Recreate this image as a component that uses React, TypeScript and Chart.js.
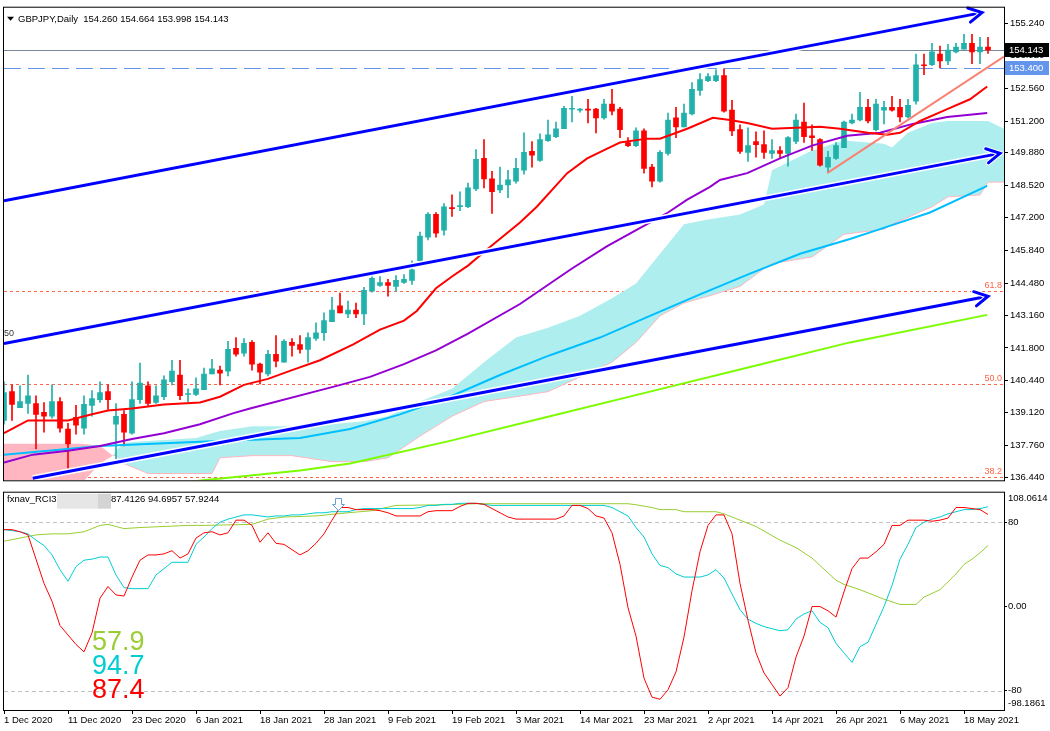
import React, { useEffect, useRef } from "react";
import { Chart, registerables } from "chart.js";

Chart.register(...registerables);

const FONT = "'Liberation Sans', Arial, sans-serif";
const TEAL = "#20B2AA";
const RED = "#FF0000";

// ---------- axes / labels ----------
const dateLabels = ["1 Dec 2020", "11 Dec 2020", "23 Dec 2020", "6 Jan 2021", "18 Jan 2021", "28 Jan 2021", "9 Feb 2021", "19 Feb 2021", "3 Mar 2021", "14 Mar 2021", "23 Mar 2021", "2 Apr 2021", "14 Apr 2021", "26 Apr 2021", "6 May 2021", "18 May 2021"];
const dateLabelBars = [0, 8, 16, 24, 32, 40, 48, 56, 64, 72, 80, 88, 96, 104, 112, 120];
const priceTicks = [136.44, 137.76, 139.12, 140.44, 141.8, 143.16, 144.48, 145.84, 147.2, 148.52, 149.88, 151.2, 152.56, 153.92, 155.24];
const priceMin = 136.318;
const priceMax = 155.893;
const barMin = 0;
const barMax = 125;
const rciTicks = [-80, 0, 80];
const rciMin = -98.1861;
const rciMax = 108.0614;

// ---------- candles (GBPJPY daily) ----------
const opens = [138.80, 139.99, 139.33, 139.50, 139.50, 139.13, 138.97, 139.58, 138.44, 138.93, 138.48, 139.42, 139.66, 139.99, 138.64, 139.05, 138.27, 139.66, 140.23, 139.54, 139.78, 140.40, 140.68, 139.87, 139.87, 140.07, 140.72, 140.88, 140.84, 141.78, 141.58, 142.03, 141.13, 140.72, 141.54, 141.21, 142.03, 141.94, 141.74, 142.19, 142.43, 142.89, 143.54, 143.21, 143.37, 143.21, 144.15, 144.39, 144.51, 144.35, 144.51, 144.60, 145.41, 146.39, 147.33, 146.68, 147.61, 147.65, 147.65, 148.39, 149.65, 148.80, 148.35, 148.55, 148.71, 149.16, 149.94, 149.57, 150.39, 150.55, 150.88, 151.69, 151.65, 151.69, 151.69, 151.33, 151.90, 151.69, 150.31, 150.18, 150.79, 149.29, 148.71, 149.86, 151.33, 150.96, 151.49, 152.47, 152.87, 152.87, 153.08, 151.65, 150.84, 149.90, 150.35, 150.22, 149.86, 149.98, 149.86, 150.35, 151.16, 150.59, 150.43, 149.29, 149.65, 150.10, 151.12, 151.24, 151.77, 150.84, 151.65, 151.77, 151.77, 151.37, 152.02, 153.53, 153.53, 153.97, 153.69, 154.06, 154.18, 154.42, 154.06, 154.260];
const highs = [140.40, 140.27, 140.23, 140.68, 139.82, 139.54, 140.27, 139.74, 138.68, 139.42, 139.82, 140.03, 140.40, 140.27, 139.50, 139.21, 140.40, 141.17, 140.40, 140.23, 140.64, 141.29, 141.29, 140.11, 140.56, 140.97, 141.33, 141.05, 142.07, 142.23, 142.19, 142.11, 141.17, 141.70, 142.31, 142.15, 142.19, 142.31, 142.43, 142.84, 143.25, 143.90, 144.07, 143.74, 143.66, 144.31, 144.76, 144.76, 144.64, 144.80, 144.84, 145.41, 146.60, 147.41, 147.41, 147.78, 148.14, 148.27, 148.63, 150.02, 150.43, 149.12, 149.29, 149.16, 149.65, 150.71, 150.35, 150.67, 151.24, 151.16, 151.81, 152.22, 151.73, 152.10, 151.73, 152.10, 152.51, 151.77, 150.51, 150.92, 150.88, 149.41, 149.98, 151.53, 151.77, 151.90, 152.79, 153.16, 153.16, 153.32, 153.36, 152.06, 151.04, 150.92, 150.75, 150.79, 150.43, 150.14, 150.55, 151.49, 151.94, 151.04, 150.47, 149.94, 150.31, 151.20, 151.49, 152.39, 152.10, 152.10, 152.02, 152.22, 152.10, 152.10, 153.97, 153.97, 154.42, 154.30, 154.38, 154.42, 154.79, 154.79, 154.67, 154.664];
const lows = [138.64, 138.80, 139.33, 139.09, 137.62, 138.31, 138.89, 138.31, 136.81, 138.23, 138.23, 138.97, 139.54, 139.25, 137.21, 137.74, 138.23, 139.50, 139.42, 139.50, 139.66, 140.27, 139.66, 139.58, 139.82, 140.07, 140.72, 140.27, 140.64, 141.46, 141.46, 140.88, 140.31, 140.64, 141.01, 141.21, 141.46, 141.58, 141.21, 142.11, 142.11, 142.89, 143.25, 143.05, 143.05, 142.76, 144.11, 144.35, 143.94, 144.15, 144.47, 144.43, 145.37, 146.27, 146.39, 146.47, 147.25, 147.49, 147.61, 148.31, 148.43, 147.37, 148.23, 148.02, 148.63, 149.00, 149.29, 149.53, 150.35, 150.51, 150.88, 151.16, 151.57, 151.12, 150.71, 151.28, 151.45, 150.51, 150.14, 150.14, 149.04, 148.47, 148.67, 149.78, 150.51, 150.96, 151.45, 152.26, 152.83, 152.83, 151.57, 150.59, 149.86, 149.53, 149.70, 149.65, 149.65, 149.65, 149.33, 150.26, 150.31, 149.98, 149.33, 149.08, 149.61, 150.10, 151.08, 151.20, 151.12, 150.79, 151.08, 151.61, 151.16, 151.33, 151.90, 153.12, 153.49, 153.40, 153.53, 154.02, 154.18, 153.57, 153.57, 153.998];
const closes = [139.95, 139.46, 139.58, 139.82, 139.05, 138.97, 139.58, 138.48, 137.83, 138.60, 139.46, 139.70, 139.95, 139.66, 138.97, 138.31, 139.66, 140.35, 139.50, 139.82, 140.48, 140.84, 139.82, 139.91, 140.11, 140.72, 140.93, 140.76, 141.74, 141.54, 141.99, 141.13, 140.80, 141.54, 141.25, 142.07, 141.90, 141.74, 142.23, 142.43, 142.93, 143.37, 143.25, 143.37, 143.21, 144.19, 144.68, 144.51, 144.39, 144.60, 144.64, 145.04, 146.43, 147.33, 146.55, 147.65, 147.57, 147.70, 148.43, 149.61, 148.80, 148.27, 148.55, 148.76, 149.24, 149.90, 149.78, 150.43, 150.63, 150.88, 151.73, 151.73, 151.69, 151.65, 151.33, 151.90, 151.61, 150.84, 150.18, 150.79, 149.24, 148.71, 149.90, 151.24, 150.96, 151.53, 152.51, 152.92, 153.04, 153.08, 151.61, 150.79, 149.94, 150.18, 150.22, 149.90, 149.98, 149.86, 150.51, 151.24, 150.55, 150.51, 149.37, 149.70, 150.18, 151.16, 151.24, 151.77, 151.20, 151.90, 151.77, 151.65, 151.37, 151.85, 153.53, 153.49, 154.06, 153.69, 154.14, 154.26, 154.42, 154.06, 154.26, 154.143];

// ---------- moving averages [bar, price] ----------
const maRed = [[0, 138.27], [3, 138.80], [8, 138.80], [11, 139.05], [13, 139.21], [16, 139.29], [20, 139.46], [24.5, 139.54], [27, 139.78], [30, 140.27], [33, 140.52], [36, 140.88], [39.5, 141.29], [43.6, 141.94], [47, 142.56], [50, 142.93], [51.6, 143.33], [54, 144.27], [56, 144.76], [58, 145.21], [60.75, 145.98], [64.5, 147.00], [66.6, 147.65], [70.4, 149.04], [72.9, 149.65], [75.4, 150.06], [77, 150.31], [80.4, 150.47], [82, 150.47], [85.4, 150.88], [88.6, 151.33], [90.75, 151.24], [92.9, 151.12], [96, 150.88], [99, 150.92], [102, 150.96], [104.5, 150.88], [108, 150.71], [110.4, 150.63], [112, 150.71], [114.5, 151.20], [117.9, 151.69], [120.75, 152.10], [122.9, 152.63]];
const maPurple = [[0, 137.05], [3.6, 137.38], [8, 137.54], [12, 137.74], [16, 138.03], [20, 138.27], [24.5, 138.64], [28.6, 139.09], [30.75, 139.29], [41.6, 140.23], [45.75, 140.60], [50, 141.13], [54, 141.70], [58, 142.39], [64.5, 143.62], [71, 145.09], [75.4, 146.02], [81, 147.04], [83, 147.41], [85.4, 147.94], [88.25, 148.47], [89.5, 148.76], [92.9, 149.04], [97, 149.65], [101, 150.18], [105.4, 150.59], [109.5, 150.71], [113.6, 151.08], [117.9, 151.37], [122.9, 151.53]];
const maBlue = [[0, 137.38], [12, 137.74], [24.5, 137.91], [37, 138.07], [43.25, 138.44], [49.5, 139.05], [55.75, 139.78], [62, 140.68], [68.25, 141.50], [74.5, 142.23], [80.75, 143.13], [87, 144.02], [93.25, 144.88], [99.5, 145.70], [105.75, 146.31], [109.5, 146.72], [115.75, 147.41], [122.9, 148.51]];
const maGreen = [[22, 136.2], [24.9, 136.32], [37, 136.72], [43.25, 137.01], [55.75, 137.95], [68.25, 138.97], [80.75, 139.99], [93.25, 141.01], [105.75, 142.03], [122.9, 143.17]];

// ---------- ichimoku cloud ----------
const pinkBars = [0, 9.75, 12, 13.6];
const pinkUpper = [137.83, 137.83, 137.75, 137.34];
const pinkLower = [136.2, 136.2, 137.01, 137.34];
const cloudBars = [13.6, 14, 15, 18, 24, 26, 27, 31, 36, 41, 45, 48, 52, 56, 60, 64, 68, 72, 76, 79, 82, 85, 88, 92, 95, 96, 101, 105, 110, 111, 113, 116, 118, 122, 123, 125];
const cloudUpper = [137.34, 137.54, 137.87, 137.95, 138.07, 138.27, 138.36, 138.56, 138.56, 138.64, 138.76, 138.97, 139.58, 140.11, 141.21, 142.23, 142.64, 143.13, 143.86, 144.47, 145.70, 146.92, 147.12, 147.33, 147.74, 149.16, 149.98, 150.39, 150.26, 150.10, 150.71, 151.12, 151.20, 151.20, 151.20, 150.88];
const cloudLower = [137.34, 137.34, 137.01, 136.60, 136.60, 136.60, 137.25, 137.34, 137.34, 137.09, 137.09, 137.25, 138.15, 138.97, 139.58, 139.78, 139.99, 140.60, 141.21, 142.03, 143.13, 143.66, 143.94, 144.35, 145.09, 145.29, 145.57, 146.51, 146.72, 146.92, 147.21, 147.65, 148.06, 148.14, 148.67, 148.67];

// ---------- drawn objects ----------
const trendUpper = [[0, 147.90], [122.25, 155.69]];
const trendMiddle = [[0, 141.98], [124.5, 149.86]];
const trendLower = [[3.6, 136.40], [123, 143.94]];
const trendShort = [[102.9, 149.04], [125, 153.87]];
const fibLevels = [136.44, 140.30, 144.15];
const fibNames = ["38.2", "50.0", "61.8"];
const bidPrice = 154.143;
const alertPrice = 153.4;
const headerText = "GBPJPY,Daily  154.260 154.664 153.998 154.143";

// ---------- RCI ----------
const rciShort = [73, 73, 71, 68, 45, 22, 5, -18, -27, -36, -43, -25, 8, 19, 11, 10, 28, 44, 49, 49, 50, 53, 46, 50, 65, 70, 71, 68, 70, 82, 82, 77, 61, 70, 60, 59, 54, 49, 53, 60, 69, 82, 94, 94, 92, 92, 92, 91, 89, 86, 86, 86, 86, 90, 91, 91, 91, 95, 98, 98, 97, 93, 89, 85, 83, 83, 83, 83, 83, 83, 86, 96, 96, 93, 86, 84, 70, 40, -1, -28, -68, -86, -88, -79, -62, -29, 15, 52, 77, 87, 87, 69, 22, -13, -44, -63, -74, -85, -77, -48, -28, 0, 0, -4, -10, 14, 36, 46, 46, 52, 59, 77, 77, 82, 82, 82, 81, 82, 84, 94, 94, 93, 92, 87.4];
const rciMid = [73, 72, 71, 69, 63, 58, 49, 35, 24, 38, 44, 45, 47, 47, 30, 18, 17, 17, 17, 30, 36, 42, 42, 42, 59, 66, 74, 80, 83, 85, 87, 87, 86, 85, 86, 86, 87, 87, 88, 89, 89, 90, 90, 90, 92, 93, 93, 93, 93, 93, 93, 93, 94, 96, 96, 97, 97, 98, 98, 98, 97, 96, 96, 96, 96, 96, 96, 96, 96, 96, 96, 96, 96, 96, 96, 96, 94, 90, 86, 75, 66, 50, 39, 37, 31, 28, 28, 28, 30, 35, 27, 12, -3, -12, -16, -19, -21, -23, -22, -12, -7, -4, -15, -20, -35, -44, -53, -38, -34, -17, 0, 20, 45, 59, 75, 80, 83, 85, 88, 90, 92, 92, 93, 94.7];
const rciLong = [[0, 62], [2, 65], [4, 68], [6, 69], [8, 69], [10, 71], [12, 77], [13, 78], [15, 74], [17, 75], [20, 76], [23, 77], [25, 77], [31, 78], [33, 83], [35, 85], [39, 86], [43, 89], [46, 91], [49, 96], [55, 96.6], [59, 97.6], [78, 97.6], [79, 96.6], [81, 94], [82, 92], [84, 92], [85, 90], [89, 90], [90, 88], [92, 82], [94, 76], [97, 63], [99, 56], [101, 46], [104, 25], [105, 21], [107, 16], [109, 10], [110, 7], [112, 2], [114, 2], [115, 9], [117, 16], [119, 31], [120, 40], [121, 45], [122, 51], [123, 57.9]];
const rciLastValues = ["57.9", "94.7", "87.4"];
const rciLastColors = ["#9ACD32", "#00CED1", "#FF0000"];
const rciHeaderValues = "87.4126 94.6957 57.9244";
const rciSignalBar = 41.7;
const rciSignalValue = 103;

// ---------- helpers ----------
const pairPts = (pairs: number[][]) => pairs.map(([x, y]) => ({ x, y }));
const zipPts = (xs: number[], ys: number[]) => xs.map((x, i) => ({ x, y: ys[i] }));
const seriesPts = (ys: number[]) => ys.map((y, i) => ({ x: i, y }));

const lineDs = (data: any[], color: string, width: number, order: number, extra: any = {}) => ({
  type: "line",
  data,
  borderColor: color,
  borderWidth: width,
  pointRadius: 0,
  fill: false,
  tension: 0,
  order,
  ...extra,
});

function mainConfig(): any {
  const colors = closes.map((c, i) => (c >= opens[i] ? TEAL : RED));
  const wickData = highs.map((h, i) => ({ x: i, y: [lows[i], h] }));
  const bodyData = opens.map((o, i) => {
    const c = closes[i];
    let lo = Math.min(o, c);
    let hi = Math.max(o, c);
    if (hi - lo < 0.04) {
      const m = (hi + lo) / 2;
      lo = m - 0.02;
      hi = m + 0.02;
    }
    return { x: i, y: [lo, hi] };
  });

  const overlay = {
    id: "mainOverlay",
    beforeDatasetsDraw(chart: any) {
      const { ctx, chartArea: a, scales } = chart;
      const y = scales.y;
      ctx.save();
      ctx.beginPath();
      ctx.rect(a.left, a.top, a.right - a.left, a.bottom - a.top);
      ctx.clip();
      ctx.lineWidth = 1;
      ctx.strokeStyle = "#FF6347";
      ctx.setLineDash([3, 3]);
      fibLevels.forEach((v) => {
        const py = Math.round(y.getPixelForValue(v)) + 0.5;
        ctx.beginPath();
        ctx.moveTo(a.left, py);
        ctx.lineTo(a.right, py);
        ctx.stroke();
      });
      ctx.setLineDash([]);
      ctx.strokeStyle = "#778899";
      let py = Math.round(y.getPixelForValue(bidPrice)) + 0.5;
      ctx.beginPath();
      ctx.moveTo(a.left, py);
      ctx.lineTo(a.right, py);
      ctx.stroke();
      ctx.strokeStyle = "#6495ED";
      ctx.setLineDash([17, 7]);
      py = Math.round(y.getPixelForValue(alertPrice)) + 0.5;
      ctx.beginPath();
      ctx.moveTo(a.left, py);
      ctx.lineTo(a.right, py);
      ctx.stroke();
      ctx.restore();
    },
    afterDraw(chart: any) {
      const { ctx, chartArea: a, scales } = chart;
      const x = scales.x;
      const y = scales.y;
      ctx.save();
      // arrow heads on trend lines
      ctx.save();
      ctx.beginPath();
      ctx.rect(a.left, a.top - 4, a.right - a.left + 2, a.bottom - a.top + 4);
      ctx.clip();
      [trendUpper, trendMiddle, trendLower].forEach((t) => {
        const x1 = x.getPixelForValue(t[0][0]);
        const y1 = y.getPixelForValue(t[0][1]);
        const x2 = x.getPixelForValue(t[1][0]);
        const y2 = y.getPixelForValue(t[1][1]);
        const ang = Math.atan2(y2 - y1, x2 - x1);
        const L = 15;
        const pA = [x2 - L * Math.cos(ang - 0.5), y2 - L * Math.sin(ang - 0.5)];
        const pB = [x2 - L * Math.cos(ang + 0.5), y2 - L * Math.sin(ang + 0.5)];
        ctx.lineCap = "round";
        [["#FFFFFF", 5], ["#0000FF", 3]].forEach(([col, w]) => {
          ctx.strokeStyle = col as string;
          ctx.lineWidth = w as number;
          ctx.beginPath();
          ctx.moveTo(pA[0], pA[1]);
          ctx.lineTo(x2, y2);
          ctx.lineTo(pB[0], pB[1]);
          ctx.stroke();
        });
      });
      ctx.restore();

      // frame
      ctx.strokeStyle = "#000";
      ctx.lineWidth = 1;
      ctx.strokeRect(a.left - 0.5, a.top - 0.5, a.right - a.left + 1, a.bottom - a.top + 1);

      // header
      ctx.fillStyle = "#000";
      ctx.beginPath();
      ctx.moveTo(a.left + 3, a.top + 9);
      ctx.lineTo(a.left + 10, a.top + 9);
      ctx.lineTo(a.left + 6.5, a.top + 13);
      ctx.closePath();
      ctx.fill();
      ctx.font = `9.5px ${FONT}`;
      ctx.textBaseline = "middle";
      ctx.textAlign = "left";
      ctx.fillText(headerText, a.left + 14, a.top + 12);

      // fib labels
      ctx.fillStyle = "#FF6347";
      ctx.font = `9px ${FONT}`;
      ctx.textAlign = "right";
      ctx.textBaseline = "bottom";
      fibLevels.forEach((v, i) => {
        ctx.fillText(fibNames[i], a.right - 2, y.getPixelForValue(v) - 1);
      });

      // clipped label at left
      ctx.fillStyle = "#333";
      ctx.textAlign = "left";
      ctx.textBaseline = "middle";
      ctx.fillText("50", a.left, y.getPixelForValue(142.39));

      // price boxes
      const box = (v: number, bg: string, txt: string) => {
        const cy = Math.round(y.getPixelForValue(v));
        ctx.fillStyle = bg;
        ctx.fillRect(a.right + 1, cy - 7, 44, 14);
        ctx.fillStyle = "#FFF";
        ctx.font = `9.5px ${FONT}`;
        ctx.textAlign = "left";
        ctx.textBaseline = "middle";
        ctx.fillText(txt, a.right + 5, cy + 0.5);
      };
      box(alertPrice, "#6495ED", alertPrice.toFixed(3));
      box(bidPrice, "#000000", bidPrice.toFixed(3));
      ctx.restore();
    },
  };

  return {
    type: "line",
    data: {
      datasets: [
        lineDs(zipPts(pinkBars, pinkUpper), "rgba(0,0,0,0)", 0, 40, { fill: "+1", backgroundColor: "#FFB6C1" }),
        lineDs(zipPts(pinkBars, pinkLower), "rgba(0,0,0,0)", 0, 39),
        lineDs(zipPts(cloudBars, cloudUpper), "rgba(0,0,0,0)", 0, 38, { fill: "+1", backgroundColor: "#AFEEEE" }),
        lineDs(zipPts(cloudBars, cloudLower), "#FFB6C1", 1, 37),
        {
          type: "bar",
          data: wickData,
          backgroundColor: colors,
          barThickness: 1,
          grouped: false,
          borderWidth: 0,
          order: 30,
        },
        {
          type: "bar",
          data: bodyData,
          backgroundColor: colors,
          barThickness: 5,
          grouped: false,
          borderWidth: 0,
          order: 29,
        },
        lineDs(pairPts(maGreen), "#7CFC00", 2, 20),
        lineDs(pairPts(maBlue), "#00BFFF", 2, 19),
        lineDs(pairPts(maPurple), "#9400D3", 2, 18),
        lineDs(pairPts(maRed), "#FF0000", 2, 17),
        lineDs(pairPts(trendShort), "#FA8072", 2, 10),
        lineDs(pairPts(trendUpper), "#FFFFFF", 6, 9),
        lineDs(pairPts(trendMiddle), "#FFFFFF", 6, 9),
        lineDs(pairPts(trendLower), "#FFFFFF", 6, 9),
        lineDs(pairPts(trendUpper), "#0000FF", 3, 8),
        lineDs(pairPts(trendMiddle), "#0000FF", 3, 8),
        lineDs(pairPts(trendLower), "#0000FF", 3, 8),
      ],
    },
    options: {
      responsive: false,
      maintainAspectRatio: false,
      devicePixelRatio: 1,
      animation: false,
      events: [],
      layout: { padding: { left: 4, top: 5, right: 0, bottom: 3 } },
      plugins: { legend: { display: false }, tooltip: { enabled: false } },
      scales: {
        x: { type: "linear", min: barMin, max: barMax, display: false, offset: false },
        y: {
          type: "linear",
          position: "right",
          min: priceMin,
          max: priceMax,
          afterBuildTicks: (s: any) => {
            s.ticks = priceTicks.map((v) => ({ value: v }));
          },
          afterFit: (s: any) => {
            s.width = 46;
          },
          ticks: {
            autoSkip: false,
            callback: (v: any) => Number(v).toFixed(3),
            font: { family: FONT, size: 9.5 },
            color: "#000",
            padding: 2,
          },
          grid: { drawOnChartArea: false, drawTicks: true, tickLength: 4, color: "#000" },
          border: { display: true, color: "#000" },
        },
      },
    },
    plugins: [overlay],
  };
}

function subConfig(): any {
  const overlay = {
    id: "subOverlay",
    beforeDatasetsDraw(chart: any) {
      const { ctx, chartArea: a, scales } = chart;
      const y = scales.y;
      ctx.save();
      ctx.strokeStyle = "#C0C0C0";
      ctx.lineWidth = 1;
      ctx.setLineDash([4, 3]);
      [80, -80].forEach((v) => {
        const py = Math.round(y.getPixelForValue(v)) + 0.5;
        ctx.beginPath();
        ctx.moveTo(a.left, py);
        ctx.lineTo(a.right, py);
        ctx.stroke();
      });
      ctx.restore();
    },
    afterDraw(chart: any) {
      const { ctx, chartArea: a, scales } = chart;
      const x = scales.x;
      const y = scales.y;
      ctx.save();
      ctx.strokeStyle = "#000";
      ctx.lineWidth = 1;
      ctx.strokeRect(a.left - 0.5, a.top - 0.5, a.right - a.left + 1, a.bottom - a.top + 1);

      // header
      ctx.font = `9.5px ${FONT}`;
      ctx.textBaseline = "middle";
      ctx.textAlign = "left";
      ctx.fillStyle = "#000";
      ctx.fillText("fxnav_RCI3", a.left + 3, a.top + 7);
      ctx.fillStyle = "#E6E6E6";
      ctx.fillRect(a.left + 53, a.top + 1, 41, 15);
      ctx.fillStyle = "#D4D4D4";
      ctx.fillRect(a.left + 94, a.top + 1, 13, 15);
      ctx.fillStyle = "#000";
      ctx.fillText(rciHeaderValues, a.left + 107, a.top + 7);

      // min / max labels
      ctx.fillText(rciMax.toFixed(4), a.right + 4, y.getPixelForValue(rciMax) + 6);
      ctx.fillText(rciMin.toFixed(4), a.right + 4, y.getPixelForValue(rciMin) - 7);

      // big last values
      ctx.font = `27px ${FONT}`;
      ctx.textBaseline = "alphabetic";
      rciLastValues.forEach((t, i) => {
        ctx.fillStyle = rciLastColors[i];
        ctx.fillText(t, a.left + 88, a.top + 157 + i * 24);
      });

      // signal arrow
      const cx = Math.round(x.getPixelForValue(rciSignalBar)) + 0.5;
      const ty = Math.round(y.getPixelForValue(rciSignalValue)) + 0.5;
      ctx.beginPath();
      ctx.moveTo(cx - 3, ty);
      ctx.lineTo(cx + 3, ty);
      ctx.lineTo(cx + 3, ty + 6);
      ctx.lineTo(cx + 6, ty + 6);
      ctx.lineTo(cx, ty + 12);
      ctx.lineTo(cx - 6, ty + 6);
      ctx.lineTo(cx - 3, ty + 6);
      ctx.closePath();
      ctx.fillStyle = "#FFFFFF";
      ctx.fill();
      ctx.strokeStyle = "#6A9BD8";
      ctx.stroke();
      ctx.restore();
    },
  };

  return {
    type: "line",
    data: {
      datasets: [
        lineDs(pairPts(rciLong), "#9ACD32", 1, 3),
        lineDs(seriesPts(rciMid), "#00CED1", 1, 2),
        lineDs(seriesPts(rciShort), "#FF0000", 1, 1),
      ],
    },
    options: {
      responsive: false,
      maintainAspectRatio: false,
      devicePixelRatio: 1,
      animation: false,
      events: [],
      layout: { padding: { left: 4, top: 4, right: 0, bottom: 0 } },
      plugins: { legend: { display: false }, tooltip: { enabled: false } },
      scales: {
        x: {
          type: "linear",
          min: barMin,
          max: barMax,
          position: "bottom",
          offset: false,
          afterBuildTicks: (s: any) => {
            s.ticks = dateLabelBars.map((v) => ({ value: v }));
          },
          afterFit: (s: any) => {
            s.height = 21;
          },
          ticks: {
            autoSkip: false,
            maxRotation: 0,
            minRotation: 0,
            align: "start",
            padding: 1,
            callback: (v: any) => {
              const k = dateLabelBars.indexOf(Number(v));
              return k >= 0 ? dateLabels[k] : "";
            },
            font: { family: FONT, size: 9.5 },
            color: "#000",
          },
          grid: { drawOnChartArea: false, drawTicks: true, tickLength: 4, color: "#000" },
          border: { display: true, color: "#000" },
        },
        y: {
          type: "linear",
          position: "right",
          min: rciMin,
          max: rciMax,
          afterBuildTicks: (s: any) => {
            s.ticks = rciTicks.map((v) => ({ value: v }));
          },
          afterFit: (s: any) => {
            s.width = 46;
          },
          ticks: {
            autoSkip: false,
            callback: (v: any) => (Number(v) === 0 ? "0.00" : String(v)),
            font: { family: FONT, size: 9.5 },
            color: "#000",
            padding: 1,
          },
          grid: { drawOnChartArea: false, drawTicks: true, tickLength: 3, color: "#000" },
          border: { display: true, color: "#000" },
        },
      },
    },
    plugins: [overlay],
  };
}

export default function App() {
  const mainRef = useRef<HTMLCanvasElement>(null);
  const subRef = useRef<HTMLCanvasElement>(null);

  useEffect(() => {
    document.body.style.margin = "0";
    const main = new Chart(mainRef.current as HTMLCanvasElement, mainConfig());
    const sub = new Chart(subRef.current as HTMLCanvasElement, subConfig());
    return () => {
      main.destroy();
      sub.destroy();
    };
  }, []);

  return (
    <div style={{ position: "relative", width: 1050, height: 731, background: "#FFFFFF", overflow: "hidden" }}>
      <canvas
        ref={mainRef}
        width={1050}
        height={488}
        style={{ position: "absolute", left: 0, top: 0, width: 1050, height: 488 }}
      />
      <canvas
        ref={subRef}
        width={1050}
        height={245}
        style={{ position: "absolute", left: 0, top: 486, width: 1050, height: 245 }}
      />
    </div>
  );
}
